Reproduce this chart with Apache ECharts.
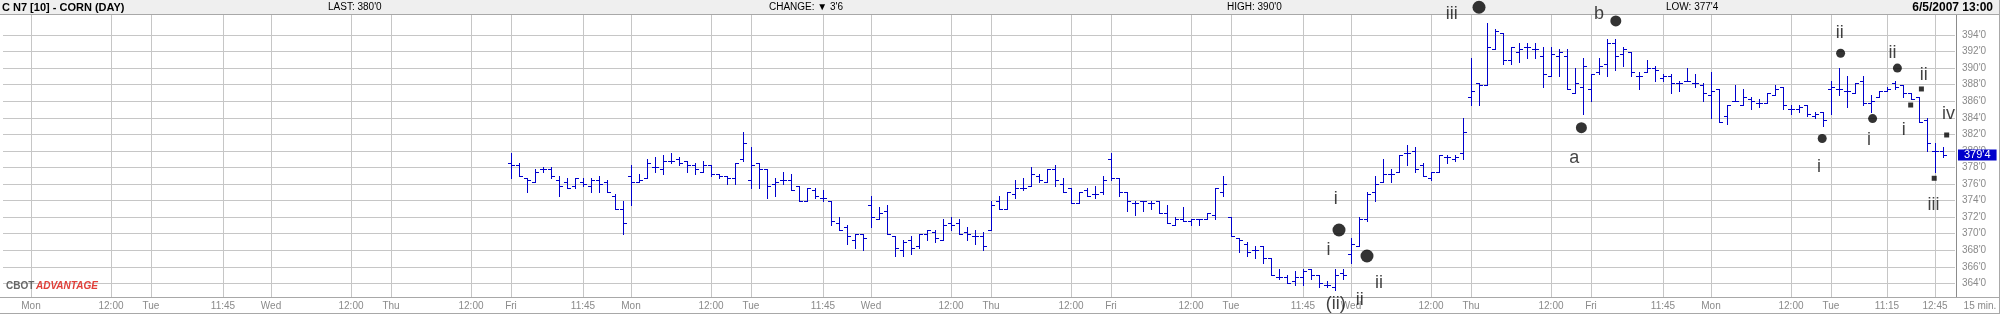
<!DOCTYPE html>
<html><head><meta charset="utf-8">
<script src="https://cdn.jsdelivr.net/npm/echarts@6/dist/echarts.min.js"></script>
<style>html,body{margin:0;padding:0;background:#fff;overflow:hidden}#c{width:2000px;height:314px}</style>
</head><body><div id="c"></div>
<script>
// ---------- DATA ----------
const tradingDays = ['Fri 5/11','Mon 5/14','Tue 5/15','Wed 5/16','Thu 5/17','Fri 5/18','Mon 5/21','Tue 5/22','Wed 5/23','Thu 5/24','Fri 5/25','Tue 5/29','Wed 5/30','Thu 5/31','Fri 6/1','Mon 6/4','Tue 6/5','Wed 6/6'];
const sessionTimes = ['9:30','9:45','10:00','10:15','10:30','10:45','11:00','11:15','11:30','11:45','12:00','12:15','12:30','12:45','13:00'];

const tickCategories = ['Mon 5/14 9:30','Mon 5/14 12:00','Tue 5/15 9:30','Tue 5/15 11:45','Wed 5/16 9:30','Wed 5/16 12:00','Thu 5/17 9:30','Thu 5/17 12:00','Fri 5/18 9:30','Fri 5/18 11:45','Mon 5/21 9:30','Mon 5/21 12:00','Tue 5/22 9:30','Tue 5/22 11:45','Wed 5/23 9:30','Wed 5/23 12:00','Thu 5/24 9:30','Thu 5/24 12:00','Fri 5/25 9:30','Fri 5/25 12:00','Tue 5/29 9:30','Tue 5/29 11:45','Wed 5/30 9:30','Wed 5/30 12:00','Thu 5/31 9:30','Thu 5/31 12:00','Fri 6/1 9:30','Fri 6/1 11:45','Mon 6/4 9:30','Mon 6/4 12:00','Tue 6/5 9:30','Tue 6/5 11:15','Tue 6/5 12:45'];
const tickLabels = ['Mon','12:00','Tue','11:45','Wed','12:00','Thu','12:00','Fri','11:45','Mon','12:00','Tue','11:45','Wed','12:00','Thu','12:00','Fri','12:00','Tue','11:45','Wed','12:00','Thu','12:00','Fri','11:45','Mon','12:00','Tue','11:15','12:45'];

const firstBarCategory = 'Fri 5/18 9:30';
const barOpen = [
378.5,378.25,376.75,376.25,377.75,377.75,376.5,376.25,375.75,376.25,375.75,376.5,376.25,374.5,373,
377,376.25,376.75,378,377.75,378.75,379,378.75,378.25,377.5,378.25,377.25,377,376.75,379,
376.5,378.5,377.75,376,376.5,376.5,375.75,374,375.25,374.25,374,371.25,370.75,369.25,370,
373.5,371.75,372.75,369.75,368,369.25,368.5,370,370.25,369.25,371.25,371.25,370.25,369.75,369.75,
370.5,374,373,374.75,375.5,375.75,377,376.25,377.75,376,375.5,373.75,375.25,374.75,375,
379,376.75,375,373.75,374,373.75,374,372.5,371,371.75,371.5,371.75,371.75,372.25,375,
372,369.5,368.75,368,368.5,367,364.75,364.75,364.25,364.75,365.75,365,363.75,363.5,365.25,
367.5,368.5,371.75,375,376.25,377.25,377.5,379.75,380,378.25,376.75,377.5,379.25,379,379.75,
386.5,388.25,388,392.25,394.25,391,392,392.5,392.25,391.5,389,391.5,391.5,387,387.75,
387.5,389.5,390.5,393,391.75,392,389,389.5,390,388.75,389,388.25,388.5,388.25,388,
386.75,387.5,384.25,386,385.5,386.25,385.75,385.75,386.75,387.75,385,385,385.5,384.25,384.75,
387.5,387.5,387.25,387,388.5,385.75,386.5,387.25,388.25,388,387,386.5,383.75,380,380];
const barHigh = [
379.75,378.5,376.75,377.75,378,378,377,376.75,376.75,376.75,376.75,377,376.5,374.75,374,
378.25,377.25,379,379.25,379.5,379.75,379.25,378.75,378.5,378.75,378.25,377.25,377,378.5,382.25,
380.5,378.5,377.75,376.75,377.5,377.25,375.75,375.5,375.5,375.25,374,372,371,370,370,
374.5,373.25,373.5,369.75,369.25,369.75,370,370.5,370.5,371.75,372,371.75,370.75,370.5,370.25,
374,374.5,375,376.5,376.75,378,377.25,377.75,378.25,376.75,375.5,375,375.5,375.75,377,
379.75,376.75,375,374,374,374,374,373.5,372,373.25,371.75,371.75,372.5,375.5,377,
372,369.5,369,368.5,368.5,367,365.75,365,365.5,365.75,365.75,365,364.25,365.75,365.75,
369.5,372,375,377,379,377.75,379.5,380.75,380.5,378.5,377.5,379.5,379.5,379.5,384,
391.25,388.25,395.5,394.75,394.25,392.5,393,393,393,392.5,392.5,392.25,392.25,390,391.25,
389.25,391.25,393.5,393.5,392.5,392,389.5,391,390.25,389.25,389.25,388.5,390,389.25,388.25,
389.5,387.5,385.5,388,387.5,386.5,386.25,387,388,387.75,385.5,385.5,385.5,384.75,384.75,
388.5,390,389,388.25,389,386.75,387.25,387.75,388.5,388,387,386.5,384,381,380.5];
const barLow = [
376.75,377,375,376.25,377.5,376.75,374.5,375.5,375.5,375.75,375,375,375,373,370,
373.5,376.25,376.75,377.5,377.25,378.5,378.25,377.5,377.25,377.5,377,376.75,376,376,378.75,
375.5,375.5,374.25,374.5,376,375.25,374,374,374.25,374,371,370.5,368.75,368.25,368,
370.75,371.75,370,367.25,367.25,367.5,368.25,369.25,369,369.25,370.5,370,369.25,368.75,368,
370.5,373,373,374.25,375.25,375.75,376.25,376.25,375.75,375,373.75,373.75,374.5,374.25,374.75,
376.5,374.5,372.75,372.25,372.75,373,372.5,371.25,371,371.5,371,371,371.75,371.75,374.5,
369.75,367.75,367.25,367,366.5,365,364.5,364,363.75,363.75,364.5,363.5,363.5,363.25,364.5,
366.5,368.5,371.5,374,376.25,376.25,377.5,378.25,377.5,377,376.5,377.5,378.5,378.75,379,
385.5,385.5,388,392.25,390.5,390.5,390.75,391.25,391.25,387.75,389,389,387.5,387,384.5,
386,389.25,389,389.75,390.25,389,387.5,389.5,388.5,388.5,387,387.25,388.5,387.75,386,
384,383.5,383.25,386,385.5,385,385.25,385.75,386.75,385,384.5,384.75,384.25,384,383,
384.5,386.75,385.25,387,385.5,384.75,386.5,387.25,387.5,386.5,386.25,383.5,380,377.5,379.25];
const barClose = [
378.25,377,376.5,377.5,377.75,377,375.75,375.5,376.75,376,376.5,376,375,373,371.25,
376.25,376.5,378.5,378,378.75,378.75,378.5,378.25,377.75,378.25,377.25,377,376.75,378.5,381,
378.25,377.75,375.75,376.25,376.5,375.25,374,375.5,374.5,374.25,371.5,370.5,369.75,370,369.5,
372,372.5,370,368.25,369,368.25,370,370.5,369.5,371,371,370,370,369.75,368.5,
373.5,373,375,375.5,375.5,377.25,376.5,377.75,376.5,375,373.75,375,374.5,374.75,376.5,
376.75,375,374,373.75,374,373.75,372.5,371.25,371.75,371.5,371.75,371.75,372.5,375.5,376,
369.75,369.25,367.75,368,367,365,364.75,364,364.75,365.5,365,364,363.75,365,365,
368.75,371.75,374.75,376,377.25,377.25,379.5,379.75,377.75,377,377.5,379.5,379.25,379.25,382.25,
387.25,388,392.5,394.5,391,392.5,392.25,392.5,392.25,389.25,391.75,392,387.5,388.25,390.25,
389.25,390.25,393,391.5,392.25,389.5,389,390,389.75,389,388.25,388.25,388.5,388.25,387,
387.25,383.5,385.5,386,386.5,386,385.75,387,387.5,385.5,385,385.25,384.5,384.5,383.75,
387.75,387.5,387.25,388.25,385.75,386,387.25,387.5,387.75,387,386.25,383.5,381,380,379.5];

// Elliott-wave annotations: [slot position, price]
const waveLabelText = ['iii','i','i','ii','(ii)','ii','b','a','ii','i','i','ii','i','ii','iv','iii'];
const waveLabelX    = [180.6,166.1,165.2,171.5,166.1,169.1,199.0,195.9,229.1,226.5,232.75,235.7,237.1,239.6,242.7,240.8];
const waveLabelY    = [396.56,374.15,368.0,364.0,361.5,362.0,396.54,379.1,394.2,378.1,381.3,391.8,382.5,389.2,384.5,373.5];
const bigDotX = [184.0,166.5,170.0];
const bigDotY = [397.35,370.44,367.3];
const midDotX = [201.1,196.8];
const midDotY = [395.7,382.8];
const smallDotX = [229.2,226.9,233.2,236.3];
const smallDotY = [391.8,381.5,383.9,390.0];
const squareX = [237.96,239.3,242.46,240.9];
const squareY = [385.54,387.48,381.92,376.69];

const headerTexts = ['C N7 [10] - CORN (DAY)', "LAST: 380'0", "CHANGE: \u25BC 3'6", "HIGH: 390'0", "LOW: 377'4", '6/5/2007 13:00'];

// ---------- BUILD ----------
const categories = [];
tradingDays.forEach((d, di) => {
  sessionTimes.forEach((t, ti) => {
    if (di === 0 && ti < 12) return;
    if (di === tradingDays.length - 1 && ti > 0) return;
    categories.push(d + ' ' + t);
  });
});
const tickMap = new Map(tickCategories.map((c, i) => [c, tickLabels[i]]));
const firstSlot = categories.indexOf(firstBarCategory);
const ohlc = barOpen.map((o, i) => [firstSlot + i, o, barHigh[i], barLow[i], barClose[i]]);
const tickSlots = tickCategories.map(c => categories.indexOf(c));
const lastPrice = barClose[barClose.length - 1];
const fmtPrice = v => Math.floor(v) + "'" + Math.round((v - Math.floor(v)) * 8);

const Y_MIN = 362, Y_MAX = 398, PLOT_TOP = 396.42, PLOT_BOTTOM = 362.29;
const gridColors = [];
for (let v = Y_MIN; v <= Y_MAX; v += 2) gridColors.push(v >= 364 && v <= 394 ? '#c6c6c6' : 'rgba(0,0,0,0)');

const FONT = 'Liberation Sans, Arial, sans-serif';
const pair = (xs, ys) => xs.map((x, i) => [x, ys[i]]);

const chart = echarts.init(document.getElementById('c'), null, {renderer: 'canvas'});
chart.setOption({
  animation: false,
  backgroundColor: '#ffffff',
  grid: {left: 3, right: 45, top: 1.89, bottom: 14.14, containLabel: false},
  xAxis: [{
    type: 'category', data: categories, boundaryGap: true,
    axisLine: {show: false}, axisTick: {show: false}, splitLine: {show: false},
    axisLabel: {interval: (i, v) => tickMap.has(v), formatter: v => tickMap.get(v) || '',
      color: '#8a8a8a', fontSize: 10, fontFamily: FONT, margin: 1.5}
  }, {
    type: 'value', min: -0.5, max: categories.length - 0.5, show: false
  }],
  yAxis: {
    type: 'value', position: 'right', min: Y_MIN, max: Y_MAX, interval: 2,
    axisLine: {show: false}, axisTick: {show: false},
    axisLabel: {color: '#8a8a8a', fontSize: 10, fontFamily: FONT, margin: 7,
      formatter: v => (v >= 364 && v <= 394) ? v + "'0" : ''},
    splitLine: {show: true, lineStyle: {color: gridColors, width: 1}}
  },
  series: [{
    type: 'custom', name: 'vgrid', silent: true, z: 1,
    data: tickSlots.map(s => [s]),
    encode: {x: 0},
    renderItem: (params, api) => {
      const s = api.value(0);
      const a = api.coord([s, PLOT_TOP]);
      const b = api.coord([s, PLOT_BOTTOM]);
      const x = Math.round(a[0]) + 0.5;
      return {type: 'line', shape: {x1: x, y1: Math.round(a[1]), x2: x, y2: Math.round(b[1])},
        style: {stroke: '#c6c6c6', lineWidth: 1}};
    }
  }, {
    type: 'custom', name: 'C N7', silent: true, z: 3,
    data: ohlc, encode: {x: 0, y: [1, 2, 3, 4]},
    renderItem: (params, api) => {
      const s = api.value(0);
      const pO = api.coord([s, api.value(1)]);
      const pH = api.coord([s, api.value(2)]);
      const pL = api.coord([s, api.value(3)]);
      const pC = api.coord([s, api.value(4)]);
      const c = Math.round(pH[0]);
      const st = {stroke: '#0000cc', lineWidth: 1};
      const yo = Math.round(pO[1]) + 0.5, yc = Math.round(pC[1]) + 0.5;
      return {type: 'group', children: [
        {type: 'line', shape: {x1: c + 0.5, y1: Math.round(pH[1]), x2: c + 0.5, y2: Math.round(pL[1]) + 1}, style: st},
        {type: 'line', shape: {x1: c - 3, y1: yo, x2: c, y2: yo}, style: st},
        {type: 'line', shape: {x1: c + 1, y1: yc, x2: c + 4, y2: yc}, style: st}
      ]};
    }
  }, {
    type: 'scatter', xAxisIndex: 1, clip: false, silent: true, z: 20,
    symbol: 'circle', symbolSize: 13, itemStyle: {color: '#000'}, data: pair(bigDotX, bigDotY)
  }, {
    type: 'scatter', xAxisIndex: 1, clip: false, silent: true, z: 20,
    symbol: 'circle', symbolSize: 11, itemStyle: {color: '#000'}, data: pair(midDotX, midDotY)
  }, {
    type: 'scatter', xAxisIndex: 1, clip: false, silent: true, z: 20,
    symbol: 'circle', symbolSize: 9, itemStyle: {color: '#000'}, data: pair(smallDotX, smallDotY)
  }, {
    type: 'scatter', xAxisIndex: 1, clip: false, silent: true, z: 20,
    symbol: 'rect', symbolSize: 5, itemStyle: {color: '#000'}, data: pair(squareX, squareY),
    markLine: {
      silent: true, symbol: 'none', animation: false,
      lineStyle: {color: 'rgba(0,0,0,0)', width: 0},
      label: {show: true, position: 'end', distance: 3, formatter: () => fmtPrice(lastPrice),
        backgroundColor: '#0000cc', color: '#ffffff', fontSize: 11, fontFamily: FONT,
        padding: [0, 6, 0, 6], lineHeight: 11},
      data: [{yAxis: lastPrice}]
    }
  }, {
    type: 'scatter', xAxisIndex: 1, clip: false, silent: true, z: 20,
    symbolSize: 1, itemStyle: {color: 'rgba(0,0,0,0)'},
    label: {show: true, position: 'inside', formatter: '{b}', color: '#111', fontSize: 18, fontFamily: FONT},
    data: waveLabelText.map((t, i) => ({name: t, value: [waveLabelX[i], waveLabelY[i]]}))
  }],
  graphic: [
    {type: 'rect', z: 10, shape: {x: 0, y: 0, width: 2000, height: 14}, style: {fill: '#efefef'}},
    {type: 'line', z: 10, shape: {x1: 0, y1: 14.5, x2: 2000, y2: 14.5}, style: {stroke: '#a8a8a8', lineWidth: 1}},
    {type: 'line', z: 10, shape: {x1: 0, y1: 297.5, x2: 2000, y2: 297.5}, style: {stroke: '#a8a8a8', lineWidth: 1}},
    {type: 'line', z: 10, shape: {x1: 0, y1: 313.5, x2: 2000, y2: 313.5}, style: {stroke: '#a8a8a8', lineWidth: 1}},
    {type: 'line', z: 10, shape: {x1: 1956.5, y1: 15, x2: 1956.5, y2: 297}, style: {stroke: '#8c8c8c', lineWidth: 1}},
    {type: 'line', z: 10, shape: {x1: 1999.5, y1: 0, x2: 1999.5, y2: 314}, style: {stroke: '#a8a8a8', lineWidth: 1}},
    {type: 'text', z: 11, x: 2, y: 7.5, style: {text: headerTexts[0], font: 'bold 11px ' + FONT, fill: '#000', textVerticalAlign: 'middle'}},
    {type: 'text', z: 11, x: 328, y: 7.5, style: {text: headerTexts[1], font: '10px ' + FONT, fill: '#000', textVerticalAlign: 'middle'}},
    {type: 'text', z: 11, x: 769, y: 7.5, style: {text: headerTexts[2], font: '10px ' + FONT, fill: '#000', textVerticalAlign: 'middle'}},
    {type: 'text', z: 11, x: 1227, y: 7.5, style: {text: headerTexts[3], font: '10px ' + FONT, fill: '#000', textVerticalAlign: 'middle'}},
    {type: 'text', z: 11, x: 1666, y: 7.5, style: {text: headerTexts[4], font: '10px ' + FONT, fill: '#000', textVerticalAlign: 'middle'}},
    {type: 'text', z: 11, x: 1993, y: 7.5, style: {text: headerTexts[5], font: 'bold 12px ' + FONT, fill: '#000', textAlign: 'right', textVerticalAlign: 'middle'}},
    {type: 'text', z: 11, x: 1980, y: 306.5, style: {text: '15 min.', font: '10px ' + FONT, fill: '#8a8a8a', textAlign: 'center', textVerticalAlign: 'middle'}},
    {type: 'text', z: 11, x: 6, y: 286, style: {text: 'CBOT', font: 'bold 10px ' + FONT, fill: '#666', textVerticalAlign: 'middle'}},
    {type: 'text', z: 11, x: 36, y: 286, style: {text: 'ADVANTAGE', font: 'italic bold 10px ' + FONT, fill: '#e0403a', textVerticalAlign: 'middle'}}
  ]
});
</script></body></html>
